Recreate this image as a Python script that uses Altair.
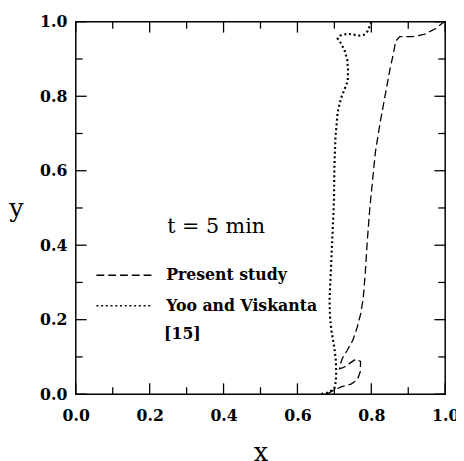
import altair as alt
import pandas as pd

# ---- data ----
series_names = ["Present study", "Yoo and Viskanta"]

present_x = [0.680, 0.700, 0.720, 0.745, 0.762, 0.770, 0.771, 0.758, 0.740, 0.725,
             0.714, 0.716, 0.722, 0.735, 0.750, 0.762, 0.771, 0.778, 0.784, 0.789,
             0.796, 0.802, 0.811, 0.824, 0.837, 0.850, 0.860, 0.866, 0.877, 0.912,
             0.945, 0.975, 0.992, 1.000]
present_y = [0.000, 0.012, 0.020, 0.027, 0.038, 0.060, 0.088, 0.094, 0.082, 0.072,
             0.068, 0.080, 0.097, 0.118, 0.145, 0.180, 0.215, 0.256, 0.330, 0.410,
             0.500, 0.560, 0.650, 0.730, 0.800, 0.870, 0.916, 0.948, 0.960, 0.960,
             0.967, 0.982, 0.996, 1.000]

yoo_x = [0.665, 0.685, 0.700, 0.704, 0.705, 0.704, 0.700, 0.692, 0.688, 0.687,
         0.690, 0.694, 0.699, 0.700, 0.703, 0.709, 0.718, 0.728, 0.736, 0.737,
         0.735, 0.727, 0.716, 0.709, 0.716, 0.735, 0.755, 0.768, 0.780, 0.790,
         0.796, 0.800]
yoo_y = [0.000, 0.005, 0.015, 0.035, 0.060, 0.090, 0.125, 0.170, 0.210, 0.256,
         0.320, 0.410, 0.520, 0.610, 0.690, 0.758, 0.795, 0.820, 0.840, 0.870,
         0.898, 0.925, 0.945, 0.955, 0.963, 0.968, 0.965, 0.963, 0.965, 0.975,
         0.990, 1.000]

major_ticks = [0.0, 0.2, 0.4, 0.6, 0.8, 1.0]
minor_ticks = [0.1, 0.3, 0.5, 0.7, 0.9]

annot_text = ["t = 5 min", "[15]"]
annot_x = [0.380, 0.239]
annot_y = [0.433, 0.147]
annot_align = ["center", "left"]

FONT = "DejaVu Serif"
W, H = 376, 379
MAJOR_LEN, MINOR_LEN = 11, 7

df_p = pd.DataFrame({"x": present_x, "y": present_y,
                     "order": list(range(len(present_x))), "series": series_names[0]})
df_y = pd.DataFrame({"x": yoo_x, "y": yoo_y,
                     "order": list(range(len(yoo_x))), "series": series_names[1]})

xscale = alt.Scale(domain=[0, 1], nice=False, zero=False)
yscale = alt.Scale(domain=[0, 1], nice=False, zero=False)
dash_scale = alt.Scale(domain=series_names, range=[[8, 4], [2, 2.8]])


def label_axis(orient, title, **kw):
    return alt.Axis(orient=orient, values=major_ticks, format=".1f",
                    labelFlush=False, ticks=False, domain=False, grid=False,
                    title=title, labelFont=FONT, labelFontSize=16,
                    labelFontWeight="bold", labelColor="black",
                    titleFont=FONT, titleFontSize=26, titleFontWeight="normal",
                    titleColor="black", **kw)


legend = alt.Legend(orient="none", legendX=20, legendY=250, title=None,
                    symbolType="stroke", symbolSize=3249, symbolStrokeWidth=1.5,
                    symbolStrokeColor="black", labelFont=FONT, labelFontSize=16,
                    labelFontWeight="bold", clipHeight=16,
                    labelColor="black", labelOffset=13, rowPadding=15, padding=0)

line_p = alt.Chart(df_p).mark_line(color="black", strokeWidth=1.3).encode(
    x=alt.X("x:Q", scale=xscale,
            axis=label_axis("bottom", "x", labelPadding=14,
                            titleBaseline="alphabetic", titleY=68)),
    y=alt.Y("y:Q", scale=yscale,
            axis=label_axis("left", "y", labelPadding=9, titleAngle=0,
                            titleBaseline="alphabetic", titleAlign="center",
                            titleX=-61, titleY=198)),
    order="order:Q",
    strokeDash=alt.StrokeDash("series:N", scale=dash_scale, legend=legend),
)

line_y = alt.Chart(df_y).mark_line(color="black", strokeWidth=2.2).encode(
    x=alt.X("x:Q", scale=xscale, axis=None),
    y=alt.Y("y:Q", scale=yscale, axis=None),
    order="order:Q",
    strokeDash=alt.StrokeDash("series:N", scale=dash_scale, legend=legend),
)

df_t = pd.DataFrame({"x": [annot_x[0]], "y": [annot_y[0]], "t": [annot_text[0]]})
df_r = pd.DataFrame({"x": [annot_x[1]], "y": [annot_y[1]], "t": [annot_text[1]]})

text_t = alt.Chart(df_t).mark_text(font=FONT, fontSize=21, align=annot_align[0],
                                   baseline="alphabetic", color="black").encode(
    x=alt.X("x:Q", scale=xscale, axis=None),
    y=alt.Y("y:Q", scale=yscale, axis=None),
    text="t:N",
)
text_r = alt.Chart(df_r).mark_text(font=FONT, fontSize=16, fontWeight="bold",
                                   align=annot_align[1],
                                   baseline="alphabetic", color="black").encode(
    x=alt.X("x:Q", scale=xscale, axis=None),
    y=alt.Y("y:Q", scale=yscale, axis=None),
    text="t:N",
)


# inward-pointing axis ticks on all four sides of the frame
# (the tick mark's fixed coordinate is its centre)
def tick_layer(values, length, side):
    df = pd.DataFrame({"v": values})
    if side in ("bottom", "top"):
        centre = H - length / 2 if side == "bottom" else length / 2
        return alt.Chart(df).mark_tick(orient="vertical", color="black",
                                       thickness=1.3, opacity=1).encode(
            x=alt.X("v:Q", scale=xscale, axis=None),
            y=alt.value(centre),
            size=alt.value(length),
        )
    centre = length / 2 if side == "left" else W - length / 2
    return alt.Chart(df).mark_tick(orient="horizontal", color="black",
                                   thickness=1.3, opacity=1).encode(
        y=alt.Y("v:Q", scale=yscale, axis=None),
        x=alt.value(centre),
        size=alt.value(length),
    )


tick_layers = [tick_layer(vals, ln, side)
               for side in ("bottom", "top", "left", "right")
               for vals, ln in ((major_ticks, MAJOR_LEN), (minor_ticks, MINOR_LEN))]

chart = alt.layer(line_p, line_y, text_t, text_r, *tick_layers).resolve_axis(
    x="independent", y="independent"
).properties(
    width=W, height=H,
    autosize=alt.AutoSizeParams(type="none"),
    padding={"left": 69, "top": 10, "right": 11, "bottom": 64},
    background="white",
).configure_view(stroke="black", strokeWidth=1.5)

chart.save("out.html", embed_options={"renderer": "svg", "actions": False})
